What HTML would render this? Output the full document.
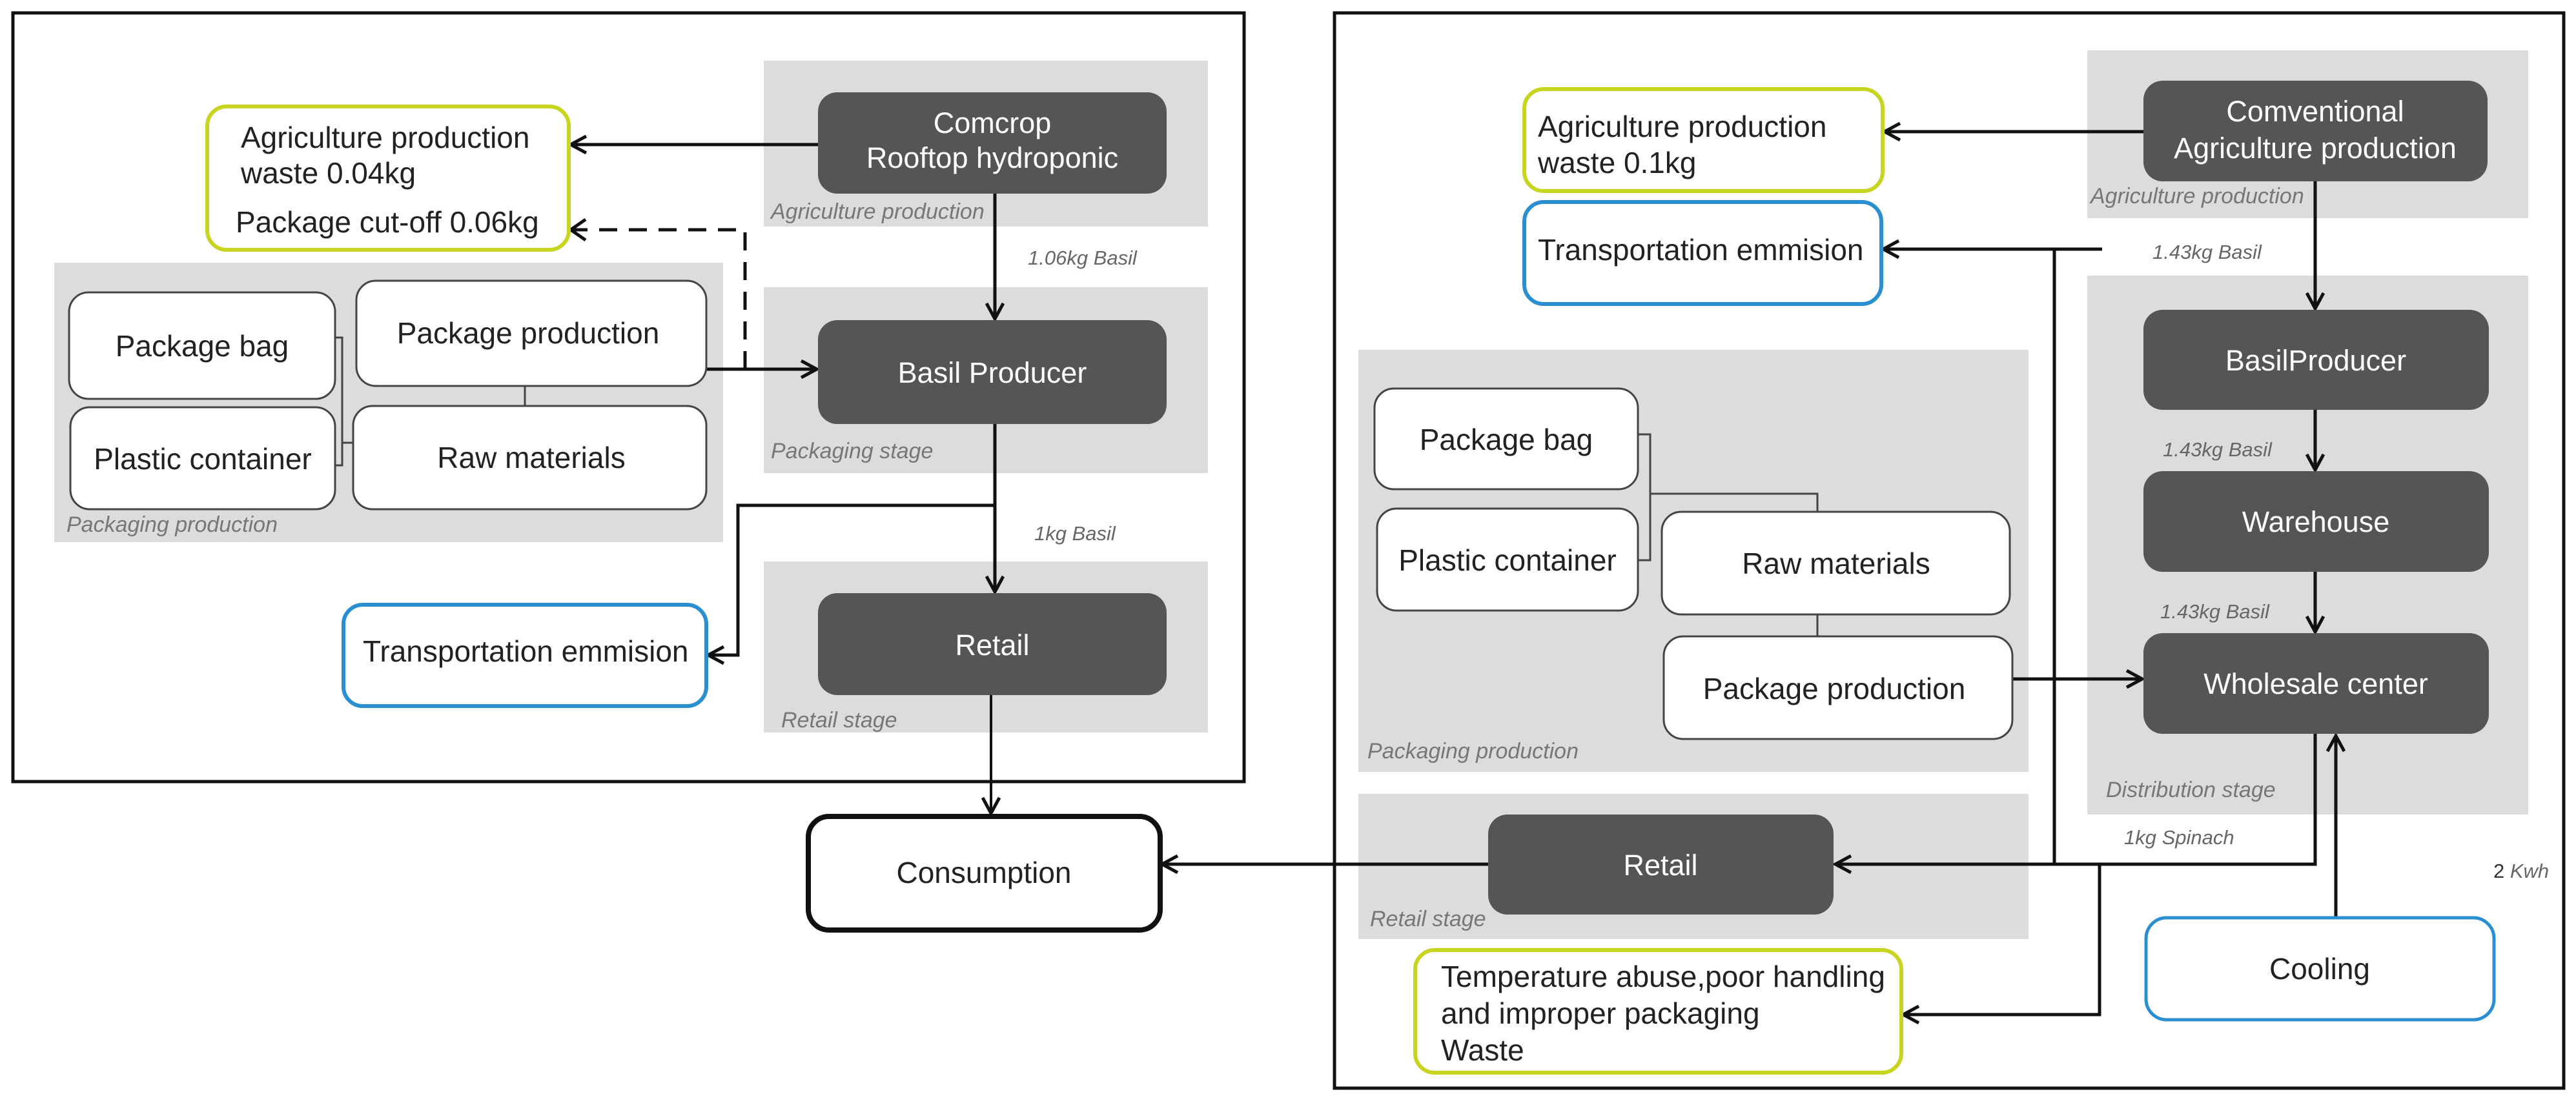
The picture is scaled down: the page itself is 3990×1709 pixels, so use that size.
<!DOCTYPE html>
<html><head><meta charset="utf-8"><style>
html,body{margin:0;padding:0;background:#fff;}
svg{display:block;}
text{font-family:"Liberation Sans",sans-serif;}
.n{font-size:46px;fill:#222;text-anchor:middle;}
.w{font-size:45px;fill:#fff;text-anchor:middle;}
.l{font-size:46px;fill:#222;}
.g{font-size:34px;fill:#777;font-style:italic;}
.q{font-size:31px;fill:#666;font-style:italic;}
</style></head><body>
<svg width="3990" height="1709" viewBox="0 0 3990 1709" xmlns="http://www.w3.org/2000/svg">
<defs>
<marker id="b" viewBox="0 0 30 30" refX="27" refY="15" markerWidth="30" markerHeight="30" markerUnits="userSpaceOnUse" orient="auto"><path d="M3,2 L27,15 L3,28" fill="none" stroke="#111" stroke-width="5"/></marker>
</defs>
<rect x="20" y="20" width="1907" height="1191" fill="none" stroke="#111" stroke-width="5"/>
<rect x="2067" y="20" width="1904" height="1666" fill="none" stroke="#111" stroke-width="5"/>

<rect x="1183" y="94" width="688" height="257" fill="#dcdcdc"/>
<rect x="84" y="407" width="1036" height="433" fill="#dcdcdc"/>
<rect x="1183" y="445" width="688" height="288" fill="#dcdcdc"/>
<rect x="1183" y="870" width="688" height="265" fill="#dcdcdc"/>
<text class="g" x="1194" y="339">Agriculture production</text>
<text class="g" x="1194" y="710">Packaging stage</text>
<text class="g" x="103" y="824">Packaging production</text>
<text class="g" x="1210" y="1127">Retail stage</text>

<line x1="1267" y1="224" x2="884" y2="224" stroke="#111" stroke-width="5" marker-end="url(#b)"/>
<polyline points="1154,572 1154,356 884,356" fill="none" stroke="#111" stroke-width="5" stroke-dasharray="28,18" />
<path d="M907,340 L884,356 L907,372" fill="none" stroke="#111" stroke-width="5"/>
<line x1="1094" y1="572" x2="1265" y2="572" stroke="#111" stroke-width="5" marker-end="url(#b)"/>
<line x1="1541" y1="300" x2="1541" y2="494" stroke="#111" stroke-width="5" marker-end="url(#b)"/>
<line x1="1541" y1="657" x2="1541" y2="917" stroke="#111" stroke-width="5" marker-end="url(#b)"/>
<polyline points="1541,783 1143,783 1143,1015 1097,1015" fill="none" stroke="#111" stroke-width="5" marker-end="url(#b)"/>
<line x1="1535" y1="1077" x2="1535" y2="1260" stroke="#111" stroke-width="4" marker-end="url(#b)"/>
<polyline points="519,523 530,523 530,721 519,721" fill="none" stroke="#444" stroke-width="3"/>
<line x1="530" y1="686" x2="547" y2="686" stroke="#444" stroke-width="3"/>
<line x1="813" y1="598" x2="813" y2="629" stroke="#444" stroke-width="3"/>
<text class="q" x="1592" y="410">1.06kg Basil</text>
<text class="q" x="1602" y="837">1kg Basil</text>

<rect x="1267" y="143" width="540" height="157" rx="30" fill="#555"/>
<text class="w" x="1537" y="206">Comcrop</text>
<text class="w" x="1537" y="260">Rooftop hydroponic</text>
<rect x="321" y="165" width="560" height="222" rx="30" fill="#fff" stroke="#c9d41e" stroke-width="6"/>
<text class="l" x="373" y="229">Agriculture production</text>
<text class="l" x="373" y="284">waste 0.04kg</text>
<text class="l" x="365" y="360">Package cut-off 0.06kg</text>
<rect x="107" y="453" width="412" height="165" rx="30" fill="#fff" stroke="#444" stroke-width="3"/>
<text class="n" x="313" y="552">Package bag</text>
<rect x="109" y="631" width="410" height="158" rx="30" fill="#fff" stroke="#444" stroke-width="3"/>
<text class="n" x="314" y="727">Plastic container</text>
<rect x="552" y="435" width="542" height="163" rx="30" fill="#fff" stroke="#444" stroke-width="3"/>
<text class="n" x="818" y="532">Package production</text>
<rect x="547" y="629" width="547" height="160" rx="30" fill="#fff" stroke="#444" stroke-width="3"/>
<text class="n" x="823" y="725">Raw materials</text>
<rect x="1267" y="496" width="540" height="161" rx="30" fill="#555"/>
<text class="w" x="1537" y="593">Basil Producer</text>
<rect x="532" y="937" width="562" height="157" rx="30" fill="#fff" stroke="#2a8fd0" stroke-width="6"/>
<text class="l" x="562" y="1025">Transportation emmision</text>
<rect x="1267" y="919" width="540" height="158" rx="30" fill="#555"/>
<text class="w" x="1537" y="1015">Retail</text>
<rect x="1252" y="1265" width="545" height="176" rx="32" fill="#fff" stroke="#111" stroke-width="8"/>
<text class="n" x="1524" y="1368">Consumption</text>

<rect x="3233" y="78" width="683" height="260" fill="#dcdcdc"/>
<rect x="3233" y="427" width="683" height="835" fill="#dcdcdc"/>
<rect x="2104" y="542" width="1038" height="654" fill="#dcdcdc"/>
<rect x="2104" y="1230" width="1038" height="225" fill="#dcdcdc"/>
<text class="g" x="3238" y="315">Agriculture production</text>
<text class="g" x="3262" y="1235">Distribution stage</text>
<text class="g" x="2118" y="1175">Packaging production</text>
<text class="g" x="2122" y="1435">Retail stage</text>

<line x1="3320" y1="204" x2="2919" y2="204" stroke="#111" stroke-width="5" marker-end="url(#b)"/>
<line x1="3586" y1="281" x2="3586" y2="478" stroke="#111" stroke-width="5" marker-end="url(#b)"/>
<line x1="3586" y1="635" x2="3586" y2="728" stroke="#111" stroke-width="5" marker-end="url(#b)"/>
<line x1="3586" y1="886" x2="3586" y2="979" stroke="#111" stroke-width="5" marker-end="url(#b)"/>
<line x1="3256" y1="386" x2="2917" y2="386" stroke="#111" stroke-width="5" marker-end="url(#b)"/>
<line x1="3182" y1="386" x2="3182" y2="1339" stroke="#111" stroke-width="5"/>
<polyline points="3586,1137 3586,1339 2843,1339" fill="none" stroke="#111" stroke-width="5" marker-end="url(#b)"/>
<polyline points="3252,1339 3252,1572 2948,1572" fill="none" stroke="#111" stroke-width="5" marker-end="url(#b)"/>
<line x1="3117" y1="1052" x2="3318" y2="1052" stroke="#111" stroke-width="5" marker-end="url(#b)"/>
<line x1="3618" y1="1422" x2="3618" y2="1140" stroke="#111" stroke-width="5" marker-end="url(#b)"/>
<line x1="2305" y1="1339" x2="1800" y2="1339" stroke="#111" stroke-width="5" marker-end="url(#b)"/>
<polyline points="2537,673 2556,673 2556,868 2537,868" fill="none" stroke="#444" stroke-width="3"/>
<polyline points="2556,765 2815,765 2815,793" fill="none" stroke="#444" stroke-width="3"/>
<line x1="2815" y1="952" x2="2815" y2="986" stroke="#444" stroke-width="3"/>
<text class="q" x="3334" y="401">1.43kg Basil</text>
<text class="q" x="3350" y="707">1.43kg Basil</text>
<text class="q" x="3346" y="958">1.43kg Basil</text>
<text class="q" x="3290" y="1308">1kg Spinach</text>
<text class="q" x="3862" y="1360"><tspan font-style="normal" fill="#333">2</tspan> Kwh</text>

<rect x="3320" y="125" width="533" height="156" rx="30" fill="#555"/>
<text class="w" x="3586" y="188">Comventional</text>
<text class="w" x="3586" y="245">Agriculture  production</text>
<rect x="2361" y="138" width="555" height="158" rx="30" fill="#fff" stroke="#c9d41e" stroke-width="6"/>
<text class="l" x="2382" y="212">Agriculture production</text>
<text class="l" x="2382" y="268">waste 0.1kg</text>
<rect x="2361" y="313" width="553" height="158" rx="30" fill="#fff" stroke="#2a8fd0" stroke-width="6"/>
<text class="l" x="2382" y="403">Transportation emmision</text>
<rect x="3320" y="480" width="535" height="155" rx="30" fill="#555"/>
<text class="w" x="3587" y="574">BasilProducer</text>
<rect x="3320" y="730" width="535" height="156" rx="30" fill="#555"/>
<text class="w" x="3587" y="824">Warehouse</text>
<rect x="3320" y="981" width="535" height="156" rx="30" fill="#555"/>
<text class="w" x="3587" y="1075">Wholesale center</text>
<rect x="2129" y="602" width="408" height="156" rx="30" fill="#fff" stroke="#444" stroke-width="3"/>
<text class="n" x="2333" y="697">Package bag</text>
<rect x="2133" y="788" width="404" height="158" rx="30" fill="#fff" stroke="#444" stroke-width="3"/>
<text class="n" x="2335" y="884">Plastic container</text>
<rect x="2574" y="793" width="539" height="159" rx="30" fill="#fff" stroke="#444" stroke-width="3"/>
<text class="n" x="2844" y="889">Raw materials</text>
<rect x="2577" y="986" width="540" height="159" rx="30" fill="#fff" stroke="#444" stroke-width="3"/>
<text class="n" x="2841" y="1083">Package production</text>
<rect x="2305" y="1262" width="535" height="155" rx="30" fill="#555"/>
<text class="w" x="2572" y="1356">Retail</text>
<rect x="2192" y="1472" width="753" height="190" rx="30" fill="#fff" stroke="#c9d41e" stroke-width="6"/>
<text class="l" x="2232" y="1529">Temperature abuse,poor handling</text>
<text class="l" x="2232" y="1586">and improper packaging</text>
<text class="l" x="2232" y="1643">Waste</text>
<rect x="3324" y="1422" width="539" height="158" rx="32" fill="#fff" stroke="#2a8fd0" stroke-width="5"/>
<text class="n" x="3593" y="1517">Cooling</text>
</svg>
</body></html>
